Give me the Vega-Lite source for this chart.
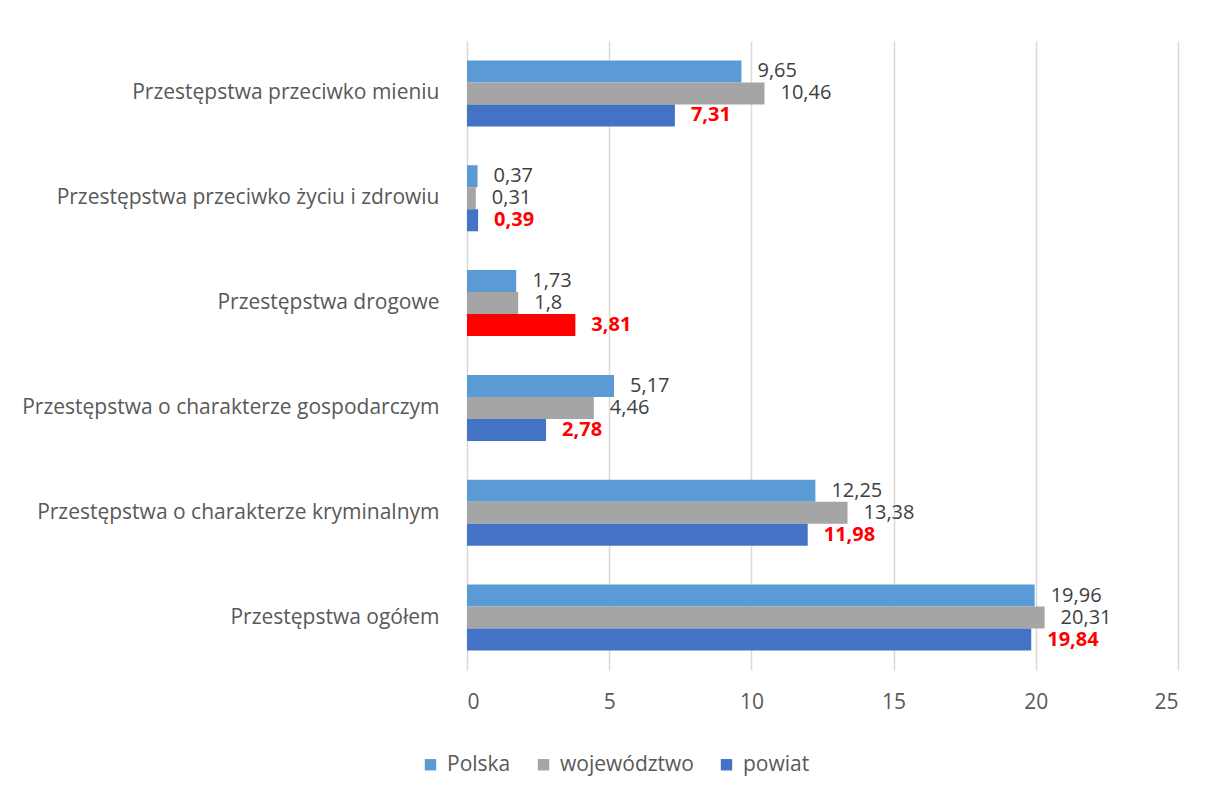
{
  "$schema": "https://vega.github.io/schema/vega-lite/v6.json",
  "autosize": "none",
  "width": 711,
  "height": 629,
  "padding": {"left": 467, "top": 41, "right": 30, "bottom": 117},
  "background": "white",
  "config": {
    "locale": {"number": {"decimal": ",", "thousands": " ", "grouping": [3], "currency": ["", " zł"]}},
    "view": {"stroke": null},
    "font": "Open Sans"
  },
  "data": {
    "values": [
      {"kategoria": "Przestępstwa przeciwko mieniu", "seria": "Polska", "wartosc": 9.65},
      {"kategoria": "Przestępstwa przeciwko mieniu", "seria": "województwo", "wartosc": 10.46},
      {"kategoria": "Przestępstwa przeciwko mieniu", "seria": "powiat", "wartosc": 7.31},
      {"kategoria": "Przestępstwa przeciwko życiu i zdrowiu", "seria": "Polska", "wartosc": 0.37},
      {"kategoria": "Przestępstwa przeciwko życiu i zdrowiu", "seria": "województwo", "wartosc": 0.31},
      {"kategoria": "Przestępstwa przeciwko życiu i zdrowiu", "seria": "powiat", "wartosc": 0.39},
      {"kategoria": "Przestępstwa drogowe", "seria": "Polska", "wartosc": 1.73},
      {"kategoria": "Przestępstwa drogowe", "seria": "województwo", "wartosc": 1.8},
      {"kategoria": "Przestępstwa drogowe", "seria": "powiat", "wartosc": 3.81},
      {"kategoria": "Przestępstwa o charakterze gospodarczym", "seria": "Polska", "wartosc": 5.17},
      {"kategoria": "Przestępstwa o charakterze gospodarczym", "seria": "województwo", "wartosc": 4.46},
      {"kategoria": "Przestępstwa o charakterze gospodarczym", "seria": "powiat", "wartosc": 2.78},
      {"kategoria": "Przestępstwa o charakterze kryminalnym", "seria": "Polska", "wartosc": 12.25},
      {"kategoria": "Przestępstwa o charakterze kryminalnym", "seria": "województwo", "wartosc": 13.38},
      {"kategoria": "Przestępstwa o charakterze kryminalnym", "seria": "powiat", "wartosc": 11.98},
      {"kategoria": "Przestępstwa ogółem", "seria": "Polska", "wartosc": 19.96},
      {"kategoria": "Przestępstwa ogółem", "seria": "województwo", "wartosc": 20.31},
      {"kategoria": "Przestępstwa ogółem", "seria": "powiat", "wartosc": 19.84}
    ]
  },
  "encoding": {
    "y": {
      "field": "kategoria",
      "type": "nominal",
      "sort": null,
      "scale": {"paddingInner": 0.37, "paddingOuter": 0.185},
      "axis": {
        "title": null,
        "domain": false,
        "ticks": false,
        "labelPadding": 28,
        "labelFontSize": 21,
        "labelColor": "#595959",
        "labelFont": "Open Sans",
        "labelLimit": 460
      }
    },
    "yOffset": {
      "field": "seria",
      "type": "nominal",
      "sort": ["Polska", "województwo", "powiat"],
      "scale": {"paddingInner": 0, "paddingOuter": 0}
    },
    "x": {
      "field": "wartosc",
      "type": "quantitative",
      "scale": {"domain": [0, 25], "nice": false},
      "axis": {
        "title": null,
        "domain": false,
        "ticks": false,
        "values": [0, 5, 10, 15, 20, 25],
        "format": "d",
        "labelPadding": 21,
        "labelFontSize": 21,
        "labelColor": "#595959",
        "labelFont": "Open Sans",
        "grid": true,
        "gridColor": "#D9D9D9",
        "gridWidth": 1.5
      }
    }
  },
  "layer": [
    {
      "mark": {"type": "bar", "cornerRadius": 0},
      "encoding": {
        "color": {
          "condition": {"test": "datum.kategoria === 'Przestępstwa drogowe' && datum.seria === 'powiat'", "value": "#FF0000"},
          "field": "seria",
          "type": "nominal",
          "sort": ["Polska", "województwo", "powiat"],
          "scale": {"domain": ["Polska", "województwo", "powiat"], "range": ["#5B9BD5", "#A5A5A5", "#4472C4"]},
          "legend": {
            "title": null,
            "orient": "none",
            "direction": "horizontal",
            "legendX": -47,
            "legendY": 713,
            "symbolType": "square",
            "symbolSize": 130,
            "symbolStrokeWidth": 0,
            "labelFontSize": 21,
            "labelColor": "#595959",
            "labelFont": "Open Sans",
            "labelOffset": 6,
            "columnPadding": 22
          }
        }
      }
    },
    {
      "transform": [{"filter": "datum.seria !== 'powiat'"}],
      "mark": {"type": "text", "align": "left", "baseline": "middle", "dx": 16, "fontSize": 20, "color": "#404040", "font": "Open Sans"},
      "encoding": {
        "text": {"field": "wartosc", "type": "quantitative", "format": ".4~r"}
      }
    },
    {
      "transform": [{"filter": "datum.seria === 'powiat'"}],
      "mark": {"type": "text", "align": "left", "baseline": "middle", "dx": 16, "fontSize": 20, "fontWeight": "bold", "color": "#FF0000", "font": "Open Sans"},
      "encoding": {
        "text": {"field": "wartosc", "type": "quantitative", "format": ".4~r"}
      }
    }
  ]
}
